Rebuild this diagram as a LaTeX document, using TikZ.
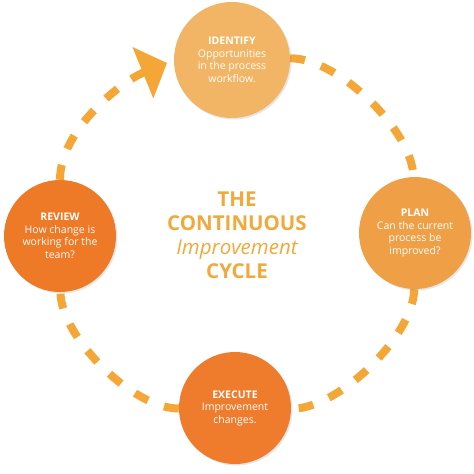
\documentclass[tikz,border=0pt]{standalone}
\usepackage{fontspec}
\setmainfont{Open Sans}
\usetikzlibrary{arrows.meta,shadows,backgrounds}

\definecolor{ringorange}{HTML}{F4A736}
\definecolor{identifyfill}{HTML}{F2B565}
\definecolor{planfill}{HTML}{EF9F45}
\definecolor{reviewfill}{HTML}{EE7926}
\definecolor{executefill}{HTML}{EE7C2C}
\definecolor{titleorange}{HTML}{F2A83A}

\begin{document}
\begin{tikzpicture}[x=1pt,y=1pt,
  stage/.style={circle, minimum size=112pt, inner sep=0pt, text=white, align=center,
    font=\fontsize{10.5}{12.5}\selectfont,
    drop shadow={shadow xshift=1.5pt, shadow yshift=-1.5pt, opacity=0.2}},
  ring/.style={draw=ringorange, line width=8pt, dash pattern=on 15pt off 17pt}]
\useasboundingbox (-237,-239) rectangle (237,235);

\node (title) [align=center, text=titleorange, font=\fontsize{20.5}{24}\selectfont\bfseries] at (0,0)
  {THE\\CONTINUOUS\\{\mdseries\itshape Improvement}\\CYCLE};

\node (identify) [stage, fill=identifyfill, minimum size=116pt] at (-5,175) {\textbf{IDENTIFY}\\Opportunities\\in the process\\workflow.};
\node (plan) [stage, fill=planfill] at (178,2) {\textbf{PLAN}\\Can the current\\process be\\improved?};
\node (execute) [stage, fill=executefill] at (-2,-173) {\textbf{EXECUTE}\\Improvement\\changes.};
\node (review) [stage, fill=reviewfill] at (-177,-1) {\textbf{REVIEW}\\How change is\\working for the\\team?};
\coordinate (tip) at (-70,172);

\begin{scope}[on background layer]
\draw[ring] (identify) to[bend left=45, looseness=0.7] (plan);
\draw[ring] (plan) to[bend left=45, looseness=0.7] (execute);
\draw[ring] (execute) to[bend left=45, looseness=0.7] (review);
\draw[ring,-{Triangle[length=26pt,width=54pt]}] (review) to[out=90, in=-158, looseness=0.8] (tip);
\end{scope}
\end{tikzpicture}
\end{document}
